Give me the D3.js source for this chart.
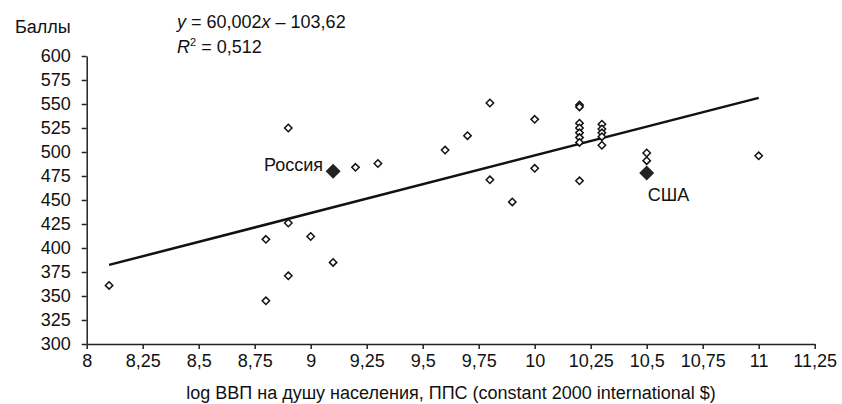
<!DOCTYPE html>
<html><head><meta charset="utf-8">
<script src="https://cdn.jsdelivr.net/npm/d3@7"></script>
<style>
html,body{margin:0;padding:0;background:#fff;}
svg{display:block;font-family:"Liberation Sans",Arial,Helvetica,sans-serif;}
</style></head>
<body><svg id="c" width="842" height="404"></svg>
<script>
// data
const gdpLog = [8.1, 8.8, 8.8, 8.9, 8.9, 8.9, 9.0, 9.1, 9.2, 9.3, 9.6, 9.7, 9.8, 9.8, 9.9, 10.0, 10.0,
  10.2, 10.2, 10.2, 10.2, 10.2, 10.2, 10.2, 10.2, 10.3, 10.3, 10.3, 10.3, 10.3, 10.5, 10.5, 11.0];
const scores = [361, 409, 345, 525, 426, 371, 412, 385, 484, 488, 502, 517, 551, 471, 448, 534, 483,
  549, 547, 530, 525, 520, 515, 510, 470, 529, 524, 520, 516, 507, 499, 491, 496];
const highlightNames = ["Россия", "США"];
const highlightGdp = [9.1, 10.5];
const highlightScores = [480, 478];
const xTicks = [8, 8.25, 8.5, 8.75, 9, 9.25, 9.5, 9.75, 10, 10.25, 10.5, 10.75, 11, 11.25];
const yTicks = [300, 325, 350, 375, 400, 425, 450, 475, 500, 525, 550, 575, 600];
const slope = 60.002, intercept = -103.62, r2 = "0,512";
const trendRange = [8.1, 11];

const svg = d3.select("#c");
const fs = 18;
const x = d3.scaleLinear().domain([8, 11.25]).range([86.7, 814.7]);
const y = d3.scaleLinear().domain([300, 600]).range([344, 56]);
const fmt = v => String(v).replace(".", ",");

const gy = svg.append("g").attr("transform", `translate(${x(8)},0)`)
  .call(d3.axisLeft(y).tickValues(yTicks).tickSize(5).tickSizeOuter(0).tickPadding(11).tickFormat(d => d));
const gx = svg.append("g").attr("transform", `translate(0,${y(300)})`)
  .call(d3.axisBottom(x).tickValues(xTicks).tickSize(5).tickSizeOuter(0).tickPadding(5).tickFormat(fmt));
[gx, gy].forEach(g => {
  g.selectAll("path,line").attr("stroke", "#222").attr("stroke-width", 1.5);
  g.selectAll("text").attr("fill", "#111").style("font-size", fs + "px").style("font-family", '"Liberation Sans",Arial,sans-serif');
});

// trend line
svg.append("line")
  .attr("x1", x(trendRange[0])).attr("y1", y(slope * trendRange[0] + intercept))
  .attr("x2", x(trendRange[1])).attr("y2", y(slope * trendRange[1] + intercept))
  .attr("stroke", "#111").attr("stroke-width", 2.5);

const diamond = r => `M0,${-r}L${r},0L0,${r}L${-r},0Z`;
svg.append("g").selectAll("path").data(gdpLog.map((g, i) => [g, scores[i]])).join("path")
  .attr("d", diamond(3.7))
  .attr("transform", d => `translate(${x(d[0])},${y(d[1])})`)
  .attr("fill", "#fff").attr("stroke", "#111").attr("stroke-width", 1.5);

const hl = highlightNames.map((n, i) => ({n, g: highlightGdp[i], s: highlightScores[i]}));
svg.append("g").selectAll("path").data(hl).join("path")
  .attr("d", diamond(7.5))
  .attr("transform", d => `translate(${x(d.g)},${y(d.s)})`)
  .attr("fill", "#222");

svg.append("text").attr("x", x(hl[0].g) - 10).attr("y", y(hl[0].s))
  .attr("text-anchor", "end").style("font-size", fs + "px").attr("fill", "#111").text(hl[0].n);
svg.append("text").attr("x", x(hl[1].g) + 1).attr("y", y(hl[1].s) + 28)
  .attr("text-anchor", "start").style("font-size", fs + "px").attr("fill", "#111").text(hl[1].n);

// labels
svg.append("text").attr("x", 15).attr("y", 33).style("font-size", fs + "px").attr("fill", "#111").text("Баллы");
const eq = svg.append("text").attr("x", 177).attr("y", 28).style("font-size", fs + "px").attr("fill", "#111");
eq.append("tspan").style("font-style", "italic").text("y");
eq.append("tspan").text(" = " + fmt(slope.toFixed(3)));
eq.append("tspan").style("font-style", "italic").text("x");
eq.append("tspan").text(" – " + fmt(Math.abs(intercept)));
const rt = svg.append("text").attr("x", 177).attr("y", 53).style("font-size", fs + "px").attr("fill", "#111");
rt.append("tspan").style("font-style", "italic").text("R");
rt.append("tspan").attr("dy", -7).style("font-size", "11px").text("2");
rt.append("tspan").attr("dy", 7).text(" = " + r2);

svg.append("text").attr("x", 451).attr("y", 399).attr("text-anchor", "middle")
  .style("font-size", fs + "px").attr("fill", "#111")
  .text("log ВВП на душу населения, ППС (constant 2000 international $)");
</script></body></html>
